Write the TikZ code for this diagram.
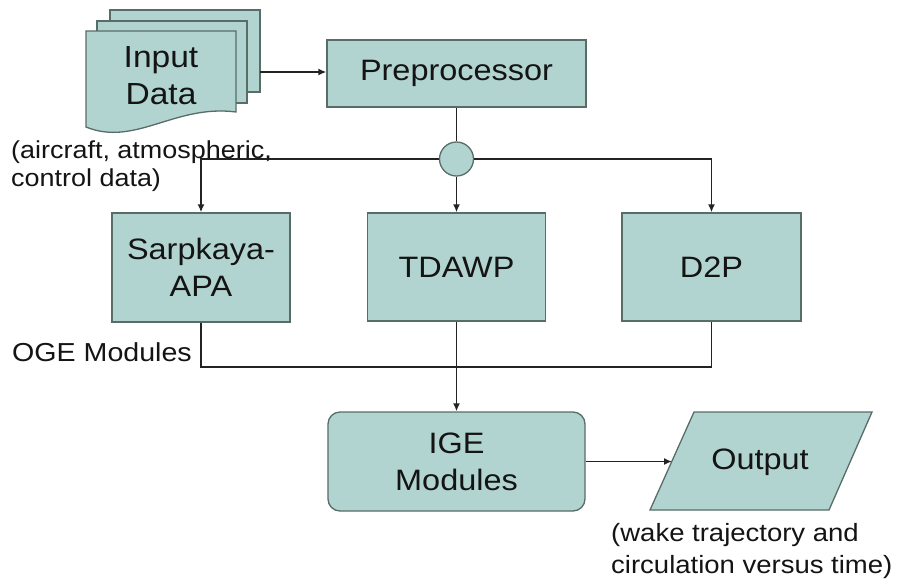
\documentclass[tikz,border=0pt]{standalone}
\usepackage{fontspec}
\setmainfont{Liberation Sans}[FakeStretch=1.1]
\usetikzlibrary{arrows.meta}
\definecolor{boxfill}{RGB}{178,212,208}
\definecolor{boxline}{RGB}{88,108,104}
\definecolor{wire}{RGB}{35,35,35}
\definecolor{ink}{RGB}{20,20,20}
\newcommand\biglabel{\fontsize{29.5}{37}\selectfont}
\begin{document}
\begin{tikzpicture}[x=1pt,y=-1pt,
  box/.style={draw=boxline,fill=boxfill,line width=1.3pt,align=center,
    inner sep=0pt,font=\biglabel,text=ink},
  conn/.style={draw=wire,line width=1.8pt},
  tip/.style={-{Latex[length=8pt,width=7pt]}},
  note/.style={inner sep=0pt,align=left,text=ink}]
\useasboundingbox (0,0) rectangle (897,582);
\fill[white] (0,0) rectangle (897,582);

% stacked input documents (back, middle, front)
\filldraw[draw=boxline,fill=boxfill,line width=1.3pt] (110,10) rectangle (260,92);
\filldraw[draw=boxline,fill=boxfill,line width=1.3pt] (97,21) rectangle (247,103);
\filldraw[draw=boxline,fill=boxfill,line width=1.3pt]
  (86,31) -- (236,31) -- (236,112)
  .. controls (175,104) and (135,147) .. (86,127) -- cycle;
\coordinate (pgR) at (260,72);
\node[font=\fontsize{30.5}{37}\selectfont,align=center,text=ink,inner sep=0pt] (inp) at (161,76) {Input\\Data};

% main blocks
\node[box,minimum width=259pt,minimum height=67pt] (pre) at (456.5,73.5) {Preprocessor};
\node[box,circle,minimum size=34pt] (hub) at (456.5,159) {};
\node[box,minimum width=178pt,minimum height=109pt] (sar) at (201,267.5) {Sarpkaya-\\APA};
\node[box,minimum width=178pt,minimum height=108pt] (tda) at (456.5,267) {TDAWP};
\node[box,minimum width=179pt,minimum height=108pt] (d2p) at (711.5,267) {D2P};
\node[box,rounded corners=12pt,minimum width=257pt,minimum height=99pt] (ige) at (456.5,461.5) {IGE\\Modules};

% output parallelogram
\filldraw[draw=boxline,fill=boxfill,line width=1.3pt]
  (694,412) -- (872,412) -- (829,510) -- (650,510) -- cycle;
\coordinate (outin) at (672,461.5);
\node[font=\biglabel,text=ink,inner sep=0pt] (out) at (760,462) {Output};

% connectors
\draw[conn,tip] (pgR) -- (pgR -| pre.west);
\draw[conn] (pre) -- (hub);
\draw[conn,tip] (hub) -- (tda);
\draw[conn,tip] (hub.west) -| (sar.north);
\draw[conn,tip] (hub.east) -| (d2p.north);
\coordinate (busL) at (201,367);
\coordinate (busR) at (711.5,367);
\draw[conn] (sar.south) -- (busL) -- (busR) -- (d2p.south);
\draw[conn,tip] (tda) -- (ige);
\draw[conn,tip] (ige.east) -- (outin);

% annotations
\node[note,anchor=west,font=\fontsize{24.5}{28}\selectfont] (inpnote) at (11,166)
  {(aircraft, atmospheric,\\control data)};
\node[note,anchor=west,font=\fontsize{26}{28}\selectfont] (oge) at (12,352) {OGE Modules};
\node[note,anchor=west,font=\fontsize{25}{32}\selectfont] (outnote) at (611,551)
  {(wake trajectory and\\circulation versus time)};
\end{tikzpicture}
\end{document}
